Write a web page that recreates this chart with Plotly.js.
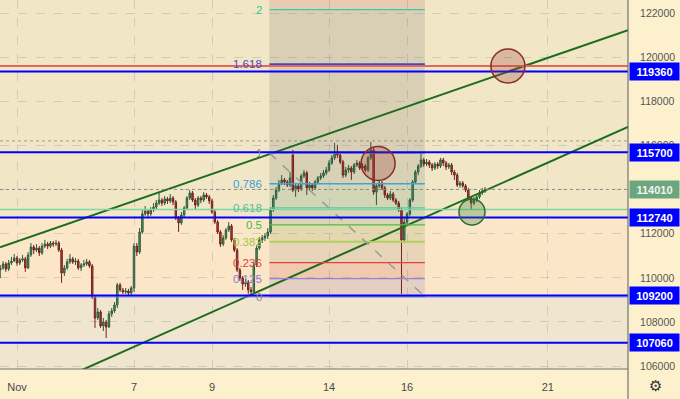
<!DOCTYPE html>
<html><head><meta charset="utf-8">
<script src="https://cdn.plot.ly/plotly-3.0.1.min.js"></script>
<style>html,body{margin:0;padding:0;background:#fdf1cd}#chart{width:680px;height:399px}</style>
</head><body><div id="chart"></div>
<script>
// ---- data (hourly bars, first bar = Oct 31 18:00) ----
const candleOpen = [
110360,110450,110630,110400,110670,110760,110900,110670,110810,110860,
110450,111040,111400,111260,111350,111130,111440,111530,111440,111580,
111530,111580,111260,110220,110450,110720,110860,110720,110760,110450,
110580,110630,110720,110540,109130,108180,108450,107820,108000,107770,
108360,108500,108770,109680,109450,109360,109400,109310,109540,111440,
111170,112080,112900,113030,112900,113080,113210,113390,113530,113390,
113580,113490,113620,113440,112710,112490,112850,113170,113620,113850,
113530,113300,113620,113530,113760,113670,113490,112990,112530,112080,
111530,111810,112170,112350,111720,111260,110360,109990,109720,109810,
109450,109360,110580,111350,111720,111810,111900,112080,113080,113620,
113980,114300,114440,114350,114210,115570,113980,114170,114030,114620,
114760,114080,114210,114080,114350,114530,114620,114760,114890,115210,
115440,115710,115570,115250,114660,114890,114980,114800,115120,115210,
114980,115070,114890,115440,115800,113890,114170,114300,114080,113760,
113620,113800,113530,113390,113080,111720,112530,112900,113530,114350,
114800,115070,115350,115160,115250,115120,114980,115160,115070,115350,
115210,115030,115120,114800,114660,114210,114300,114170,113980,113620,
113390,113530,113670,113850,113940];
const candleHigh = [
110580,110760,110720,110810,110950,111080,110990,110900,111040,110950,
111170,111580,111490,111530,111440,111580,111720,111630,111670,111670,
111720,111670,111350,110580,110860,111080,110950,110900,110860,110670,
110810,110860,110810,110630,109220,108630,108540,108180,108090,108500,
108630,108900,109770,109770,109540,109540,109500,109630,111580,111580,
112260,113080,113260,113120,113210,113390,113530,113850,113620,113710,
113670,113800,113710,113530,112810,112990,113260,113710,113980,113940,
113620,113710,113710,113890,113850,113760,113580,113080,112620,112170,
111940,112260,112530,112440,111810,111350,110450,110080,109950,109900,
109590,110720,111490,111850,111940,112030,112260,113210,113760,114120,
114440,114660,114530,114440,114800,115800,114300,114260,114710,114890,
114850,114350,114300,114440,114620,114760,114890,115030,115350,115570,
116120,116030,115660,115350,115030,115120,115070,115210,115350,115300,
115210,115160,115530,116160,115890,114300,114440,114390,114170,113850,
113940,113890,113620,113490,113170,112710,112990,113620,114440,114890,
115160,115660,115440,115390,115350,115210,115250,115250,115440,115440,
115300,115210,115210,114890,114760,114390,114390,114260,114080,113710,
113670,113760,113980,114080,114120];
const candleLow = [
109990,110360,110270,110310,110580,110720,110540,110580,110720,110270,
110400,110950,111080,111170,110990,111040,111350,111310,111350,111400,
111440,111170,109770,110080,110360,110630,110630,110580,110360,110310,
110490,110540,110450,109040,107730,108090,107730,107590,107270,107730,
108220,108410,108630,109360,109270,109270,109220,109220,109360,110990,
111080,111990,112810,112710,112810,112990,113120,113300,113260,113300,
113350,113390,113300,112620,112080,112400,112760,113080,113530,113440,
113080,113210,113390,113440,113580,113350,112900,112440,111990,111400,
111440,111720,112080,111630,111170,110270,109860,109450,109590,109270,
109180,109270,110490,111260,111580,111670,111760,111990,112990,113530,
113890,114210,114210,114120,114120,113890,113670,113890,113940,114530,
113760,113980,113940,113980,114260,114440,114530,114660,114800,115120,
115350,115440,115160,114530,114570,114760,114440,114710,115030,114890,
114890,114800,114800,115350,113760,113300,114080,113980,113620,113530,
113530,113440,113300,112990,109270,111580,112350,112810,113440,114260,
114660,114980,115030,115070,114980,114850,114890,114940,114980,115070,
114890,114940,114660,114440,114120,114080,114080,113890,113530,113080,
113300,113440,113580,113760,113850];
const candleClose = [
110450,110630,110400,110670,110760,110900,110670,110810,110860,110450,
111040,111400,111260,111350,111130,111440,111530,111440,111580,111530,
111580,111260,110220,110450,110720,110860,110720,110760,110450,110580,
110630,110720,110540,109130,108180,108450,107820,108000,107770,108360,
108500,108770,109680,109450,109360,109400,109310,109540,111440,111170,
112080,112900,113030,112900,113080,113210,113390,113530,113390,113580,
113490,113620,113440,112710,112490,112850,113170,113620,113850,113530,
113300,113620,113530,113760,113670,113490,112990,112530,112080,111530,
111810,112170,112350,111720,111260,110360,109990,109720,109810,109450,
109360,110580,111350,111720,111810,111900,112080,113080,113620,113980,
114300,114440,114350,114210,114530,113980,114170,114030,114620,114760,
114080,114210,114080,114350,114530,114620,114760,114890,115210,115440,
115710,115570,115250,114660,114890,114980,114800,115120,115210,114980,
115070,114890,115440,115800,113890,114170,114300,114080,113760,113620,
113800,113530,113390,113080,111720,112530,112900,113530,114350,114800,
115070,115350,115160,115250,115120,114980,115160,115070,115350,115210,
115030,115120,114800,114660,114210,114300,114170,113980,113620,113390,
113530,113670,113850,113940,114010];

const dayTickIndex = [0, 42, 70, 112, 140, 190.5];
const dayTickText  = ['Nov', '7', '9', '14', '16', '21'];
const priceTicks   = [106000, 108000, 110000, 112000, 114000, 116000, 118000, 120000, 122000];
const priceTickText = ['106000', '108000', '110000', '112000', '', '116000', '118000', '120000', '122000'];

const keyLevels    = [119360, 115700, 112740, 109200, 107060];   // blue lines with labels
const redLevel     = 119610;
const greenLevel   = 113100;
const highDotted   = 116210;
const lastPrice    = 114010;

const fibLevels = [0, 0.125, 0.236, 0.382, 0.5, 0.618, 0.786, 1, 1.618, 2];
const fibText   = ['0', '0.125', '0.236', '0.382', '0.5', '0.618', '0.786', '1', '1.618', '2'];
const fibHigh = 115660, fibLow = 109150;

const channelUpperX = [-6.1, 219.3], channelUpperY = [111386, 121233];
const channelLowerX = [23.3, 219.3], channelLowerY = [105820, 116843];

const circleX = [129.6, 176.2, 163.3];
const circleY = [115187, 119610, 112987];

// ---- styles / positions ----
const xMin = -6.1, xMax = 219.3, yMin = 105864, yMax = 122603;
const fibX0 = 90.6, fibX1 = 146.4;
const fibLineColors = ['#8a8a8a','#9583d0','#e24040','#b0d060','#4cbb4c','#5cc6a0','#45a2d6','#8a8a8a','#3f48cc','#40c8a0'];
const fibTextColors = ['#8a8a8a','#8c7cd0','#e04040','#a2c640','#3cbe3c','#55be9c','#3f9ed4','#8a8a8a','#4a4ac8','#38c39a'];
const fibBandColors = ['rgba(149,117,205,0.13)','rgba(229,57,53,0.12)','rgba(150,150,120,0.10)','rgba(150,190,60,0.14)',
                       'rgba(76,175,80,0.13)','rgba(70,160,130,0.13)','rgba(120,120,120,0.13)','rgba(120,120,120,0.14)',
                       'rgba(120,120,120,0.14)'];
const FONT = 'Liberation Sans, Arial, sans-serif';

const barIndex = candleOpen.map((_, k) => k - 6);
const fibPrice = l => fibLow + l * (fibHigh - fibLow);

const traces = [
  {
    type: 'candlestick', x: barIndex,
    open: candleOpen, high: candleHigh, low: candleLow, close: candleClose,
    increasing: {line: {color: '#2d5b3c', width: 1}, fillcolor: '#4f9a6b'},
    decreasing: {line: {color: '#6e2420', width: 1}, fillcolor: '#b83a30'},
    whiskerwidth: 0, hoverinfo: 'skip'
  },
  {type: 'scatter', mode: 'lines', x: channelUpperX, y: channelUpperY,
   line: {color: '#1d6b1d', width: 2}, hoverinfo: 'skip'},
  {type: 'scatter', mode: 'lines', x: channelLowerX, y: channelLowerY,
   line: {color: '#1d6b1d', width: 2}, hoverinfo: 'skip'}
];

const shapes = [];
// background bands
shapes.push({type: 'rect', xref: 'paper', x0: 0, x1: 1, yref: 'y', y0: 109200, y1: 112740,
  fillcolor: '#fce6c8', line: {width: 0}, layer: 'below'});
shapes.push({type: 'rect', xref: 'paper', x0: 0, x1: 1, yref: 'y', y0: yMin - 500, y1: 109200,
  fillcolor: '#f0e6cf', line: {width: 0}, layer: 'below'});
// fib box
shapes.push({type: 'rect', xref: 'x', yref: 'y', x0: fibX0, x1: fibX1, y0: fibPrice(2), y1: yMax + 500,
  fillcolor: 'rgba(235,80,80,0.13)', line: {width: 0}, layer: 'between'});
for (let k = 0; k < fibLevels.length - 1; k++) {
  shapes.push({type: 'rect', xref: 'x', yref: 'y', x0: fibX0, x1: fibX1,
    y0: fibPrice(fibLevels[k]), y1: fibPrice(fibLevels[k + 1]),
    fillcolor: fibBandColors[k], line: {width: 0}, layer: 'between'});
}
shapes.push({type: 'rect', xref: 'x', yref: 'y', x0: fibX0, x1: fibX1, y0: fibPrice(0), y1: yMax + 500,
  fillcolor: 'rgba(110,110,110,0.07)', line: {width: 0}, layer: 'between'});
fibLevels.forEach((l, k) => {
  shapes.push({type: 'line', xref: 'x', yref: 'y', x0: fibX0, x1: fibX1, y0: fibPrice(l), y1: fibPrice(l),
    line: {color: fibLineColors[k], width: (l === 0.382 || l === 1.618) ? 2 : 1.3}, layer: 'above'});
});
shapes.push({type: 'line', xref: 'x', yref: 'y', x0: fibX0, x1: fibX1, y0: fibHigh, y1: fibLow,
  line: {color: '#9a9a9a', width: 1.5, dash: 'dash'}, layer: 'above'});
// dotted lines
shapes.push({type: 'line', xref: 'paper', x0: 0, x1: 1, yref: 'y', y0: highDotted, y1: highDotted,
  line: {color: '#9a9a9a', width: 1, dash: 'dot'}, layer: 'between'});
shapes.push({type: 'line', xref: 'paper', x0: 0, x1: 1, yref: 'y', y0: lastPrice, y1: lastPrice,
  line: {color: '#8a8a8a', width: 1, dash: 'dot'}, layer: 'above'});
// horizontal levels
shapes.push({type: 'line', xref: 'paper', x0: 0, x1: 1, yref: 'y', y0: greenLevel, y1: greenLevel,
  line: {color: '#80d4a8', width: 1.5}, layer: 'above'});
shapes.push({type: 'line', xref: 'paper', x0: 0, x1: 1, yref: 'y', y0: redLevel, y1: redLevel,
  line: {color: '#e2685c', width: 2.2}, layer: 'above'});
shapes.push({type: 'line', xref: 'paper', x0: 0, x1: 1, yref: 'y', y0: 109130, y1: 109130,
  line: {color: '#8a8ae0', width: 1.2}, layer: 'above'});
keyLevels.forEach(p => {
  shapes.push({type: 'line', xref: 'paper', x0: 0, x1: 1, yref: 'y', y0: p, y1: p,
    line: {color: '#0000ff', width: 2}, layer: 'above'});
});
// circles
const circleStyle = [
  {r: 17, fill: 'rgba(160,60,50,0.28)', line: '#8b2a2a'},
  {r: 17, fill: 'rgba(160,60,50,0.28)', line: '#8b2a2a'},
  {r: 13, fill: 'rgba(60,130,60,0.30)', line: '#2e6b2e'}
];
circleX.forEach((cx, k) => {
  const s = circleStyle[k];
  shapes.push({type: 'circle', xref: 'x', yref: 'y', xsizemode: 'pixel', ysizemode: 'pixel',
    xanchor: cx, yanchor: circleY[k], x0: -s.r, x1: s.r, y0: -s.r, y1: s.r,
    fillcolor: s.fill, line: {color: s.line, width: 1.5}, layer: 'above'});
});
// axis separators
shapes.push({type: 'line', xref: 'paper', yref: 'paper', x0: 1, x1: 1, y0: -0.09, y1: 1,
  line: {color: '#5a5a5a', width: 1}});
shapes.push({type: 'line', xref: 'paper', yref: 'paper', x0: 0, x1: 1, y0: 0, y1: 0,
  line: {color: '#707070', width: 1}});

const annotations = [];
fibLevels.forEach((l, k) => {
  annotations.push({xref: 'x', yref: 'y', x: fibX0, y: fibPrice(l), xanchor: 'right', yanchor: 'middle',
    xshift: -5, text: fibText[k], showarrow: false,
    font: {family: FONT, size: 11.5, color: fibTextColors[k]}});
});
keyLevels.forEach(p => {
  annotations.push({xref: 'paper', yref: 'y', x: 1, y: p, xanchor: 'left', yanchor: 'middle', xshift: 1,
    text: '<b>' + p + '</b>', showarrow: false, bgcolor: '#0000ff', width: 47, height: 15, borderpad: 1,
    font: {family: FONT, size: 11, color: '#ffffff'}});
});
annotations.push({xref: 'paper', yref: 'y', x: 1, y: lastPrice, xanchor: 'left', yanchor: 'middle', xshift: 1,
  text: '<b>' + lastPrice + '</b>', showarrow: false, bgcolor: '#6aa77e', width: 47, height: 15, borderpad: 1,
  font: {family: FONT, size: 11, color: '#f4f4f4'}});
annotations.push({xref: 'paper', yref: 'paper', x: 1, y: -0.045, xanchor: 'left', yanchor: 'middle', xshift: 19,
  text: '⚙', showarrow: false, font: {family: 'DejaVu Sans', size: 15, color: '#333'}});

const layout = {
  width: 680, height: 399,
  margin: {l: 0, r: 52, t: 0, b: 30, pad: 0},
  paper_bgcolor: '#fdf1cd', plot_bgcolor: '#f1e7c6',
  showlegend: false, dragmode: false, hovermode: false,
  boxgap: 0.25,
  xaxis: {
    range: [xMin, xMax], tickvals: dayTickIndex, ticktext: dayTickText,
    showgrid: true, gridcolor: 'rgba(150,150,175,0.35)', griddash: 'dash', gridwidth: 1,
    zeroline: false, showline: false, ticks: 'outside', ticklen: 8, tickcolor: 'rgba(0,0,0,0)',
    tickfont: {family: FONT, size: 11, color: '#4a4a4a'},
    rangeslider: {visible: false}, fixedrange: true
  },
  yaxis: {
    side: 'right', range: [yMin, yMax], tickvals: priceTicks, ticktext: priceTickText,
    showgrid: true, gridcolor: 'rgba(150,150,175,0.35)', griddash: 'dash', gridwidth: 1,
    zeroline: false, showline: false, ticks: 'outside', ticklen: 9, tickcolor: 'rgba(0,0,0,0)',
    tickfont: {family: FONT, size: 10.5, color: '#555555'}, fixedrange: true
  },
  shapes: shapes, annotations: annotations
};

Plotly.newPlot('chart', traces, layout, {displayModeBar: false, staticPlot: true});
</script></body></html>
